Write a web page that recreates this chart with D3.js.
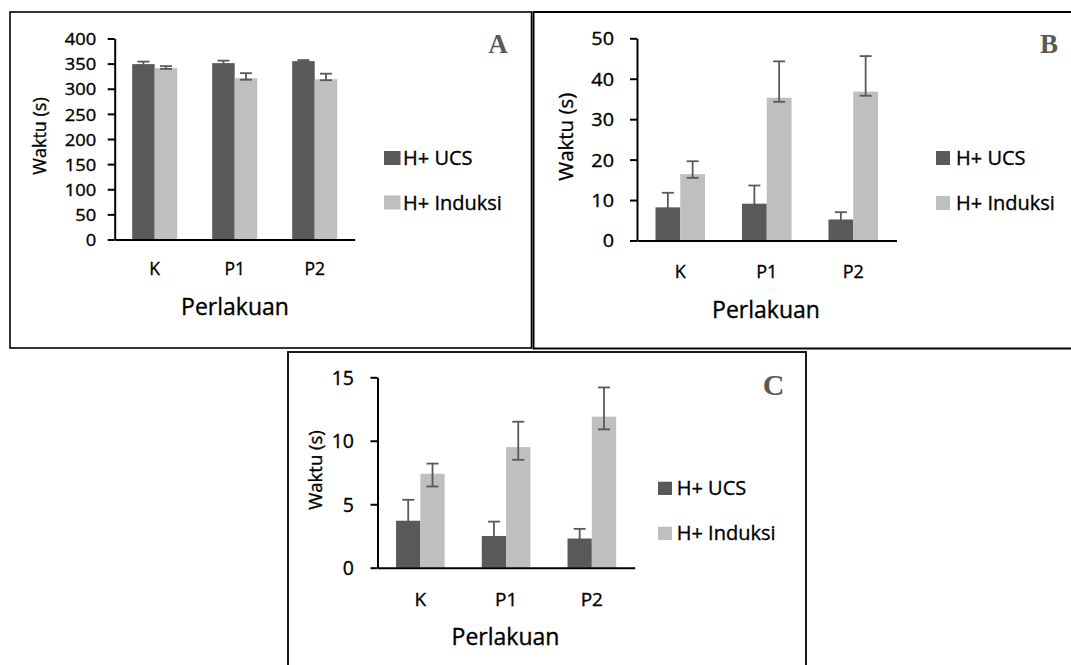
<!DOCTYPE html>
<html><head><meta charset="utf-8">
<script src="https://cdn.jsdelivr.net/npm/d3@7"></script>
<style>body{margin:0;background:#fff} svg{display:block}</style>
</head><body>
<svg id="c" width="1071" height="665"></svg>
<script>
// ---------- DATA ----------
const categories = ["K", "P1", "P2"];
const seriesNames = ["H+ UCS", "H+ Induksi"];
const xTitle = "Perlakuan";
const yTitle = "Waktu (s)";

// Panel A
const yTicksA = [0, 50, 100, 150, 200, 250, 300, 350, 400];
const ucsA = [349, 351, 355];
const ucsErrUpA = [5, 5, 2];
const ucsErrDownA = [5, 5, 2];
const indA = [341, 321, 319];
const indErrUpA = [4, 10, 11];
const indErrDownA = [1.5, 3, 2];

// Panel B
const yTicksB = [0, 10, 20, 30, 40, 50];
const ucsB = [8.2, 9.1, 5.2];
const ucsErrUpB = [3.6, 4.5, 1.8];
const ucsErrDownB = [3.6, 4.5, 1.8];
const indB = [16.4, 35.3, 36.8];
const indErrUpB = [3.2, 9.0, 8.8];
const indErrDownB = [0.9, 1.0, 1.0];

// Panel C
const yTicksC = [0, 5, 10, 15];
const ucsC = [3.7, 2.5, 2.3];
const ucsErrUpC = [1.65, 1.13, 0.76];
const ucsErrDownC = [1.65, 1.13, 0.76];
const indC = [7.4, 9.5, 11.9];
const indErrUpC = [0.8, 2.0, 2.3];
const indErrDownC = [1.0, 1.0, 1.0];

// ---------- STYLE ----------
const barColors = ["#595959", "#bfbfbf"];
const errColor = "#595959";
const FONT = "'Open Sans', 'Noto Sans', sans-serif";
const SERIF = "'Liberation Serif', 'DejaVu Serif', serif";
const TEXT_STROKE = 0.35;

const svg = d3.select("#c");

function txt(g, x, y, s, o) {
  let tr = `translate(${x},${y}) scale(${o.sx || 1},1)`;
  if (o.rot) tr += ` rotate(${o.rot})`;
  const t = g.append("text")
    .attr("transform", tr)
    .attr("text-anchor", o.anchor || "start")
    .attr("dy", o.dy || null)
    .style("font-family", o.family || FONT)
    .style("font-size", o.fs + "px")
    .style("font-weight", o.weight || "normal")
    .style("fill", o.fill || "#000")
    .text(s);
  if (!o.family) t.style("stroke", "#000").style("stroke-width", TEXT_STROKE + "px");
  return t;
}

function drawPanel(p) {
  const g = svg.append("g");

  const x = d3.scaleBand().domain(categories).range([p.x0, p.x1])
    .paddingInner(p.pad).paddingOuter(p.pad / 2);
  const xs = d3.scaleBand().domain(seriesNames).range([0, x.bandwidth()]);
  const y = d3.scaleLinear().domain([0, d3.max(p.ticks)]).range([p.yBot, p.yTop]);

  // bars
  p.series.forEach((s, si) => {
    g.append("g").selectAll("rect").data(categories).join("rect")
      .attr("x", c => x(c) + xs(seriesNames[si]))
      .attr("y", (c, i) => y(s.values[i]))
      .attr("width", xs.bandwidth())
      .attr("height", (c, i) => y(0) - y(s.values[i]))
      .attr("fill", barColors[si]);
  });

  // error bars
  p.series.forEach((s, si) => {
    const eg = g.append("g").attr("stroke", errColor).attr("stroke-width", 1.8).attr("fill", "none");
    categories.forEach((c, i) => {
      const cx = x(c) + xs(seriesNames[si]) + xs.bandwidth() / 2;
      const top = y(s.values[i] + s.up[i]);
      const bot = y(s.values[i] - s.down[i]);
      eg.append("line").attr("x1", cx).attr("x2", cx).attr("y1", top).attr("y2", bot);
      eg.append("line").attr("x1", cx - 6).attr("x2", cx + 6).attr("y1", top).attr("y2", top);
      eg.append("line").attr("x1", cx - 6).attr("x2", cx + 6).attr("y1", bot).attr("y2", bot);
    });
  });

  // y axis
  const ya = g.append("g").attr("transform", `translate(${p.x0},0)`)
    .call(d3.axisLeft(y).tickValues(p.ticks).tickSize(7).tickSizeOuter(0));
  ya.select(".domain").attr("stroke", "#000").attr("stroke-width", 2);
  ya.selectAll(".tick line").attr("stroke", "#000").attr("stroke-width", 2);
  ya.selectAll(".tick text")
    .attr("x", 0).attr("dy", "0.36em")
    .attr("transform", `translate(${-p.tickOff},0) scale(${p.tickSx},1)`)
    .style("font-family", FONT).style("font-size", p.tickFs + "px").style("fill", "#000")
    .style("stroke", "#000").style("stroke-width", TEXT_STROKE + "px");

  // x axis
  const xa = g.append("g").attr("transform", `translate(0,${p.yBot})`)
    .call(d3.axisBottom(x).tickSize(0).tickSizeOuter(0));
  xa.select(".domain").attr("stroke", "#000").attr("stroke-width", 2);
  xa.selectAll(".tick text")
    .attr("y", p.catBase - p.yBot).attr("dy", null)
    .style("font-family", FONT).style("font-size", p.catFs + "px").style("fill", "#000")
    .style("stroke", "#000").style("stroke-width", TEXT_STROKE + "px");

  // titles
  txt(g, p.xtX, p.xtY, xTitle, { fs: p.xtFs, anchor: "middle" });
  txt(g, p.ytX, p.ytY, yTitle, { fs: p.ytFs, anchor: "middle", rot: -90, dy: "0.35em" });

  // legend
  seriesNames.forEach((n, i) => {
    g.append("rect").attr("x", p.lgX).attr("y", p.lgY[i])
      .attr("width", p.lgW).attr("height", p.lgH).attr("fill", barColors[i]);
    txt(g, p.lgTX, p.lgY[i] + p.lgH, n, { fs: p.lgFs, sx: p.lgSx });
  });

  // panel letter
  txt(g, p.letX, p.letY, p.letter, { fs: p.letFs, anchor: "middle", family: SERIF, weight: "bold", fill: "#595959" });
}

// panel frames
svg.append("rect").attr("x", 10).attr("y", 12).attr("width", 521.5).attr("height", 336)
  .attr("fill", "none").attr("stroke", "#000").attr("stroke-width", 1.6);
svg.append("rect").attr("x", 533.5).attr("y", 12).attr("width", 560).attr("height", 336.5)
  .attr("fill", "none").attr("stroke", "#000").attr("stroke-width", 2);
svg.append("rect").attr("x", 288).attr("y", 352).attr("width", 518).attr("height", 340)
  .attr("fill", "none").attr("stroke", "#000").attr("stroke-width", 1.8);

drawPanel({
  letter: "A", ticks: yTicksA,
  series: [
    { values: ucsA, up: ucsErrUpA, down: ucsErrDownA },
    { values: indA, up: indErrUpA, down: indErrDownA }
  ],
  x0: 114.7, x1: 354.7, yTop: 38.5, yBot: 239.5, pad: 0.4375,
  tickOff: 18.5, tickFs: 17, tickSx: 1.08,
  catBase: 275, catFs: 17.5,
  xtX: 235, xtY: 315, xtFs: 23,
  ytX: 40, ytY: 136, ytFs: 18,
  lgX: 384, lgY: [151, 195.5], lgW: 16.5, lgH: 14, lgTX: 403, lgFs: 20, lgSx: 1,
  letX: 498, letY: 53, letFs: 27
});

drawPanel({
  letter: "B", ticks: yTicksB,
  series: [
    { values: ucsB, up: ucsErrUpB, down: ucsErrDownB },
    { values: indB, up: indErrUpB, down: indErrDownB }
  ],
  x0: 637, x1: 896.5, yTop: 38.3, yBot: 240.5, pad: 0.427,
  tickOff: 23, tickFs: 18, tickSx: 1.1,
  catBase: 278, catFs: 18,
  xtX: 766, xtY: 318, xtFs: 23,
  ytX: 565.5, ytY: 136.7, ytFs: 20.5,
  lgX: 936, lgY: [151, 196], lgW: 14, lgH: 14, lgTX: 956, lgFs: 20, lgSx: 1,
  letX: 1049, letY: 53, letFs: 27
});

drawPanel({
  letter: "C", ticks: yTicksC,
  series: [
    { values: ucsC, up: ucsErrUpC, down: ucsErrDownC },
    { values: indC, up: indErrUpC, down: indErrDownC }
  ],
  x0: 377.5, x1: 634.7, yTop: 377.3, yBot: 567.7, pad: 0.433,
  tickOff: 23.5, tickFs: 19.5, tickSx: 1,
  catBase: 605.7, catFs: 19,
  xtX: 505.5, xtY: 645, xtFs: 23,
  ytX: 316, ytY: 470, ytFs: 18.5,
  lgX: 658, lgY: [481.7, 526.7], lgW: 14, lgH: 13.3, lgTX: 676.7, lgFs: 20, lgSx: 1,
  letX: 773.6, letY: 395, letFs: 30
});
</script>
</body></html>
